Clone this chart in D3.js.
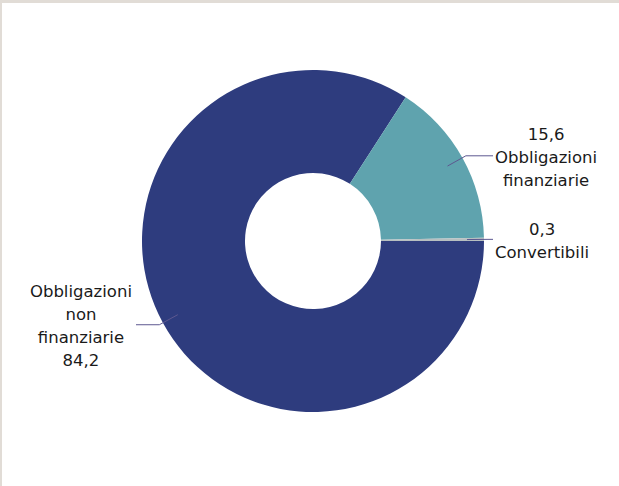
<!DOCTYPE html>
<html>
<head>
<meta charset="utf-8">
<script src="https://cdn.jsdelivr.net/npm/d3@7"></script>
<style>
  html, body { margin: 0; padding: 0; background: #fff; }
  #frame {
    width: 617px; height: 483px;
    border-top: 3px solid #e1dcd6;
    border-left: 2px solid #e1dcd6;
    background: #fff;
  }
  svg { display: block; }
</style>
</head>
<body>
<div id="frame"><svg id="chart"></svg></div>
<script>
// slices, in drawing order (clockwise from 3 o'clock)
const categories = ["Obbligazioni non finanziarie", "Obbligazioni finanziarie", "Convertibili"];
const values = [84.2, 15.6, 0.3];
const valueLabels = ["84,2", "15,6", "0,3"];
// label lines as they stand in the picture
const labelLines = [
  ["Obbligazioni", "non", "finanziarie", "84,2"],
  ["15,6", "Obbligazioni", "finanziarie"],
  ["0,3", "Convertibili"]
];
const colors = ["#2e3c7e", "#5fa3ae", "#b7bfc0"];

const width = 617, height = 483;
const cx = 311, cy = 238;
const outerR = 171, innerR = 68;
const fontSize = 16.5, lineH = 23;

const svg = d3.select("#chart")
  .attr("width", width)
  .attr("height", height);

const g = svg.append("g")
  .attr("transform", "translate(" + cx + "," + cy + ")");

const pie = d3.pie()
  .sort(null)
  .startAngle(Math.PI / 2)
  .endAngle(Math.PI / 2 + 2 * Math.PI)
  .value(d => d);

const arcs = pie(values);

const arc = d3.arc().innerRadius(innerR).outerRadius(outerR);
const anchorArc = d3.arc().innerRadius(154).outerRadius(154);
const elbowArc = d3.arc().innerRadius(175).outerRadius(175);

// slices
g.selectAll("path.slice")
  .data(arcs)
  .join("path")
  .attr("class", "slice")
  .attr("d", arc)
  .attr("fill", (d, i) => colors[i]);

// leader lines + labels
const rightEnd = 180, leftEnd = -177;

arcs.forEach((d, i) => {
  const a = anchorArc.centroid(d);
  const e = elbowArc.centroid(d);
  const right = e[0] > 0;
  const endX = right ? rightEnd : leftEnd;

  g.append("polyline")
    .attr("points", [a, e, [endX, e[1]]].map(p => p.join(",")).join(" "))
    .attr("fill", "none")
    .attr("stroke", "#5d5890")
    .attr("stroke-width", 1);

  const lines = labelLines[i];
  const txt = g.append("text")
    .attr("font-family", "'DejaVu Sans', sans-serif")
    .attr("font-size", fontSize)
    .attr("fill", "#1a1a1a")
    .attr("text-anchor", "middle");

  const tspans = txt.selectAll("tspan")
    .data(lines)
    .join("tspan")
    .text(t => t);

  // block width from the longest line
  let maxW = 0;
  tspans.each(function () { maxW = Math.max(maxW, this.getComputedTextLength()); });
  const centerX = right ? endX + 2 + maxW / 2 : endX - 4 - maxW / 2;
  const n = lines.length;
  tspans
    .attr("x", centerX)
    .attr("y", (t, j) => e[1] + (j - (n - 1) / 2) * lineH + fontSize * 0.42);
});
</script>
</body>
</html>
